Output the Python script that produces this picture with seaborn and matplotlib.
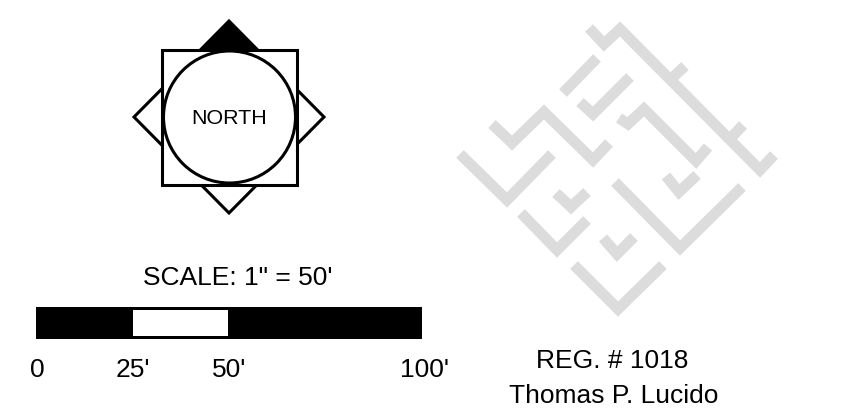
import numpy as np
import pandas as pd
import matplotlib
matplotlib.use('Agg')
import matplotlib.pyplot as plt
from matplotlib.patches import Circle, Polygon, Rectangle
import seaborn as sns

# everything in pixels (x, y from top left)
strip_top = [(589, 28), (604, 44), (620, 29), (760, 170), (774, 155)]
strip_tick_a = [(670, 80), (685, 66)]
strip_tick_b = [(729, 140), (743, 125)]
strip_bar = [(563, 93), (597, 58)]
strip_check_a = [(580, 102), (593, 114), (630, 77)]
strip_mid = [(619, 118), (628, 124), (644, 109), (696, 161), (708, 147)]
strip_left = [(492, 124), (512, 143), (544, 112), (593, 160), (609, 143)]
strip_low_left = [(460, 154), (507, 200), (552, 154)]
strip_check_b = [(556, 193), (571, 207), (587, 192)]
strip_ell = [(521, 213), (557, 250), (587, 220)]
strip_check_c = [(603, 238), (617, 254), (634, 237)]
strip_bottom = [(574, 265), (618, 309), (663, 265)]
strip_big = [(615, 182), (680, 248), (742, 187)]
strip_check_d = [(666, 176), (679, 192), (697, 175)]

strips = [strip_top, strip_tick_a, strip_tick_b, strip_bar, strip_check_a, strip_mid,
          strip_left, strip_low_left, strip_check_b, strip_ell, strip_check_c,
          strip_bottom, strip_big, strip_check_d]

scale_labels = ['0', "25'", "50'", "100'"]
scale_label_x = [37, 133, 229.5, 424]
scale_title = 'SCALE: 1" = 50\''
compass_label = 'NORTH'
reg_lines = ['REG. # 1018', 'Thomas P. Lucido']

sns.set_theme(style='white')
plt.rcParams['font.family'] = ['Liberation Sans', 'DejaVu Sans']
plt.rcParams['lines.solid_capstyle'] = 'butt'
plt.rcParams['lines.solid_joinstyle'] = 'miter'

fig = plt.figure(figsize=(8.64, 4.11), dpi=100)
ax = fig.add_axes([0, 0, 1, 1])

# grey logo
rows = []
for i, s in enumerate(strips):
    for x, y in s:
        rows.append({'strip': i, 'x': x, 'y': y})
df = pd.DataFrame(rows)
sns.lineplot(data=df, x='x', y='y', units='strip', estimator=None, sort=False,
             color='#dcdcdc', linewidth=7.8, ax=ax, legend=False)

ax.set_xlim(0, 864)
ax.set_ylim(411, 0)
ax.axis('off')

# compass
lw = 2.2
ax.add_patch(Polygon([(229, 21), (324, 117), (229, 213), (134, 117)], closed=True,
                     fc='white', ec='black', lw=lw, zorder=3, joinstyle='miter'))
ax.add_patch(Polygon([(229, 21), (258, 50), (200, 50)], closed=True, fc='black', ec='black', lw=0.5, zorder=3))
ax.add_patch(Rectangle((162, 50), 135, 135, fc='white', ec='black', lw=lw, zorder=4))
ax.add_patch(Circle((229.5, 117), 66, fc='white', ec='black', lw=lw, zorder=5))
ax.text(229, 118, compass_label, ha='center', va='center', fontsize=15.4, color='black', zorder=6)

# scale bar
ax.add_patch(Rectangle((36, 307), 386, 32, fc='black', ec='none', zorder=3))
ax.add_patch(Rectangle((133, 310), 95, 26, fc='white', ec='none', zorder=4))
ax.text(237.5, 278, scale_title, ha='center', va='center', fontsize=19, color='black')
for lab, x in zip(scale_labels, scale_label_x):
    ax.text(x, 370, lab, ha='center', va='center', fontsize=19, color='black')

ax.text(612, 361, reg_lines[0], ha='center', va='center', fontsize=19, color='black')
ax.text(614, 396, reg_lines[1], ha='center', va='center', fontsize=19, color='black')

fig.savefig('out.png', dpi=100, facecolor='white')
